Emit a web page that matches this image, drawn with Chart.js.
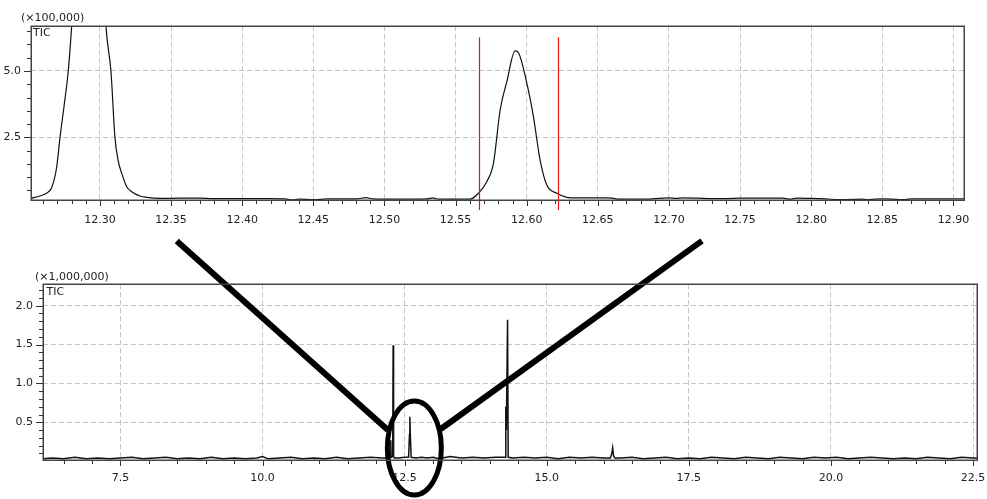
<!DOCTYPE html>
<html>
<head>
<meta charset="utf-8">
<title>TIC chromatogram</title>
<script src="https://cdn.jsdelivr.net/npm/chart.js@4/dist/chart.umd.min.js"></script>
<style>
  html, body { margin: 0; padding: 0; background: #fff; }
  #wrap { position: relative; width: 987px; height: 499px; overflow: hidden; }
  #topBox { position: absolute; left: 0; top: 0; width: 987px; height: 230px; }
  #botBox { position: absolute; left: 0; top: 232px; width: 987px; height: 267px; }
</style>
</head>
<body>
<div id="wrap">
  <div id="topBox"><canvas id="topChart"></canvas></div>
  <div id="botBox"><canvas id="botChart"></canvas></div>
</div>
<script>
// ---- Expanded window, 12.25 - 12.91 min (intensity x100,000) ----
const topTime = [
  12.2513, 12.2578, 12.262, 12.266, 12.2696, 12.2719, 12.2748, 12.2777, 12.2801,
  12.284, 12.288, 12.292, 12.297, 12.301,
  12.3042, 12.3077, 12.3105, 12.3127, 12.3153, 12.3188, 12.3223, 12.3281, 12.3328, 12.3422,
  12.35, 12.36, 12.37, 12.38, 12.39, 12.40, 12.41, 12.42, 12.43, 12.435, 12.44, 12.45,
  12.46, 12.47, 12.48, 12.487, 12.492, 12.50, 12.51, 12.52, 12.53, 12.534, 12.538, 12.55,
  12.5602, 12.566, 12.5719, 12.5766, 12.5813, 12.586, 12.5918, 12.5942, 12.6001, 12.6047,
  12.6094, 12.6141, 12.6212, 12.6282,
  12.635, 12.645, 12.655, 12.66, 12.665, 12.675, 12.685, 12.69, 12.70, 12.705, 12.71,
  12.72, 12.73, 12.74, 12.75, 12.76, 12.77, 12.78, 12.785, 12.79, 12.80, 12.81, 12.82,
  12.83, 12.835, 12.84, 12.845, 12.85, 12.86, 12.865, 12.87, 12.88, 12.89, 12.90, 12.9074
];
const topTic = [
  0.20, 0.29, 0.38, 0.60, 1.39, 2.50, 3.70, 5.00, 6.70,
  10.2, 13.6, 14.9, 13.8, 10.5,
  6.70, 5.00, 2.50, 1.64, 1.14, 0.64, 0.45, 0.29, 0.24, 0.20,
  0.20, 0.21, 0.21, 0.19, 0.19, 0.19, 0.19, 0.19, 0.18, 0.14, 0.17, 0.15,
  0.18, 0.18, 0.18, 0.23, 0.18, 0.17, 0.17, 0.17, 0.18, 0.22, 0.17, 0.17,
  0.17, 0.39, 0.83, 1.52, 3.53, 4.60, 5.76, 5.69, 4.53, 3.28,
  1.64, 0.70, 0.39, 0.24,
  0.22, 0.22, 0.22, 0.21, 0.17, 0.17, 0.17, 0.19, 0.22, 0.20, 0.22,
  0.21, 0.19, 0.19, 0.21, 0.21, 0.21, 0.21, 0.17, 0.21, 0.20, 0.18, 0.15,
  0.16, 0.17, 0.15, 0.17, 0.18, 0.16, 0.15, 0.18, 0.18, 0.18, 0.18, 0.18
];
const topXLabels = ['12.30', '12.35', '12.40', '12.45', '12.50', '12.55', '12.60',
                    '12.65', '12.70', '12.75', '12.80', '12.85', '12.90'];
const topYLabels = ['2.5', '5.0'];
// integration window markers (min)
const topMarkers = [12.5667, 12.6219];
const topMarkerTop = 6.27;

// ---- Full run, 6.1 - 22.6 min (intensity x1,000,000) ----
const bottomTime = [
  6.14, 6.3, 6.5, 6.7, 6.9, 7.1, 7.3, 7.5, 7.7, 7.9, 8.1, 8.3, 8.5, 8.7, 8.9, 9.1, 9.3,
  9.5, 9.7, 9.9, 10.0, 10.1, 10.3, 10.5, 10.7, 10.9, 11.1, 11.3, 11.5, 11.7, 11.9, 12.1,
  12.24, 12.252, 12.257, 12.262, 12.29, 12.298, 12.306, 12.32, 12.4, 12.5,
  12.57, 12.585, 12.592, 12.60, 12.615, 12.7, 12.8, 12.9, 13.0, 13.1, 13.3, 13.5, 13.7,
  13.9, 14.1, 14.27, 14.28, 14.29, 14.311, 14.322, 14.4, 14.6, 14.8, 15.0, 15.2, 15.4,
  15.6, 15.8, 16.0, 16.12, 16.145, 16.16, 16.175, 16.2, 16.3, 16.5, 16.7, 16.9, 17.1,
  17.3, 17.5, 17.7, 17.9, 18.1, 18.3, 18.5, 18.7, 18.9, 19.1, 19.3, 19.5, 19.7, 19.9,
  20.1, 20.3, 20.5, 20.7, 20.9, 21.1, 21.3, 21.5, 21.7, 21.9, 22.1, 22.3, 22.5, 22.57
];
const bottomTic = [
  0.03, 0.04, 0.03, 0.05, 0.03, 0.04, 0.03, 0.04, 0.05, 0.03, 0.04, 0.05, 0.03, 0.04, 0.03, 0.05, 0.03,
  0.04, 0.03, 0.04, 0.06, 0.03, 0.04, 0.05, 0.03, 0.04, 0.03, 0.05, 0.03, 0.04, 0.05, 0.04,
  0.04, 0.05, 0.27, 0.05, 0.06, 1.49, 0.06, 0.04, 0.04, 0.05,
  0.05, 0.34, 0.57, 0.34, 0.05, 0.04, 0.05, 0.04, 0.05, 0.03, 0.06, 0.04, 0.05,
  0.04, 0.05, 0.05, 0.70, 0.40, 1.82, 0.05, 0.04, 0.05, 0.04, 0.05, 0.03, 0.05,
  0.04, 0.05, 0.04, 0.04, 0.10, 0.17, 0.07, 0.04, 0.04, 0.05, 0.03, 0.04, 0.05,
  0.03, 0.04, 0.03, 0.05, 0.04, 0.03, 0.05, 0.04, 0.03, 0.05, 0.04, 0.03, 0.05, 0.04,
  0.05, 0.03, 0.04, 0.05, 0.04, 0.03, 0.04, 0.03, 0.05, 0.04, 0.03, 0.05, 0.04, 0.04
];
const bottomXLabels = ['7.5', '10.0', '12.5', '15.0', '17.5', '20.0', '22.5'];
const bottomYLabels = ['0.5', '1.0', '1.5', '2.0'];
// zoom callout: ring round the 12.6 min peak and the two leader lines (min, x1,000,000)
const calloutCenter = [12.671, 0.169];
const calloutRadius = [0.475, 0.605];
const leaderFrom = [[8.491, 2.833], [17.731, 2.833]];
const leaderTo = [[12.205, 0.401], [13.137, 0.414]];

const FONT = 'DejaVu Sans';
const TEXT = '#222';
const GRID = '#c6c6c6';
const FRAME = '#444';

function stepValues(from, to, step, digits) {
  const out = [];
  const n = Math.round((to - from) / step);
  for (let i = 0; i <= n; i++) out.push(+(from + i * step).toFixed(digits));
  return out;
}

// chart frame, outward tick marks, unit caption and trace name
function frameAndTicks(caption, captionXY, nameXY) {
  return {
    id: 'frameAndTicks',
    afterDraw(chart) {
      const { ctx, chartArea: a, scales } = chart;
      ctx.save();
      ctx.strokeStyle = '#333';
      ctx.lineWidth = 1;
      ctx.beginPath();
      scales.x.ticks.forEach(t => {
        const px = Math.round(scales.x.getPixelForValue(t.value)) + 0.5;
        const len = t.label ? 6 : 4;
        ctx.moveTo(px, a.bottom);
        ctx.lineTo(px, a.bottom + len);
      });
      scales.y.ticks.forEach(t => {
        const py = Math.round(scales.y.getPixelForValue(t.value)) + 0.5;
        const len = t.label ? 7 : 4;
        ctx.moveTo(a.left - len, py);
        ctx.lineTo(a.left, py);
      });
      ctx.stroke();
      ctx.strokeStyle = FRAME;
      ctx.lineWidth = 1.5;
      ctx.strokeRect(Math.round(a.left) + 0.25, Math.round(a.top) + 0.25,
                     Math.round(a.right - a.left), Math.round(a.bottom - a.top));
      ctx.fillStyle = TEXT;
      ctx.font = '11px "' + FONT + '"';
      ctx.textBaseline = 'middle';
      ctx.textAlign = 'left';
      ctx.fillText(caption, captionXY[0], captionXY[1]);
      ctx.fillText('TIC', nameXY[0], nameXY[1]);
      ctx.restore();
    }
  };
}

// red integration window lines, drawn last so nothing covers them
const markerPlugin = {
  id: 'markers',
  afterDraw(chart) {
    const { ctx, chartArea: a, scales } = chart;
    ctx.save();
    ctx.setLineDash([]);
    ctx.strokeStyle = 'rgb(230,20,20)';
    ctx.lineWidth = 1.2;
    topMarkers.forEach(m => {
      const px = Math.round(scales.x.getPixelForValue(m)) + 0.5;
      ctx.beginPath();
      ctx.moveTo(px, scales.y.getPixelForValue(topMarkerTop));
      ctx.lineTo(px, a.bottom + 10);
      ctx.stroke();
    });
    ctx.restore();
  }
};

const calloutPlugin = {
  id: 'callout',
  afterDraw(chart) {
    const { ctx, scales } = chart;
    const xs = scales.x, ys = scales.y;
    ctx.save();
    ctx.strokeStyle = '#000';
    ctx.lineWidth = 6;
    ctx.lineCap = 'butt';
    ctx.beginPath();
    leaderFrom.forEach((p, i) => {
      ctx.moveTo(xs.getPixelForValue(p[0]), ys.getPixelForValue(p[1]));
      ctx.lineTo(xs.getPixelForValue(leaderTo[i][0]), ys.getPixelForValue(leaderTo[i][1]));
    });
    ctx.stroke();
    const cx = xs.getPixelForValue(calloutCenter[0]);
    const cy = ys.getPixelForValue(calloutCenter[1]);
    const rx = Math.abs(xs.getPixelForValue(calloutCenter[0] + calloutRadius[0]) - cx);
    const ry = Math.abs(ys.getPixelForValue(calloutCenter[1] + calloutRadius[1]) - cy);
    ctx.lineWidth = 5;
    ctx.beginPath();
    ctx.ellipse(cx, cy, rx, ry, 0, 0, Math.PI * 2);
    ctx.stroke();
    ctx.restore();
  }
};

function axisX(min, max, tickValues, labels, digits, height, pad) {
  const isMajor = v => labels.includes(v.toFixed(digits));
  return {
    type: 'linear', min, max,
    afterBuildTicks: s => { s.ticks = tickValues.filter(v => v >= min && v <= max).map(v => ({ value: v })); },
    afterFit: s => { s.height = height; s.paddingLeft = 0; s.paddingRight = 0; },
    ticks: {
      autoSkip: false, maxRotation: 0, minRotation: 0, padding: pad, color: TEXT,
      font: { family: FONT, size: 11 },
      callback: v => isMajor(v) ? v.toFixed(digits) : ''
    },
    grid: {
      drawTicks: false, lineWidth: 1,
      color: c => (c.tick && isMajor(c.tick.value)) ? GRID : 'rgba(0,0,0,0)'
    },
    border: { display: false, dash: [5, 3] }
  };
}

function axisY(min, max, tickValues, labels, width) {
  const isMajor = v => labels.includes(v.toFixed(1));
  return {
    type: 'linear', min, max,
    afterBuildTicks: s => { s.ticks = tickValues.filter(v => v >= min && v <= max).map(v => ({ value: v })); },
    afterFit: s => { s.width = width; s.paddingTop = 0; s.paddingBottom = 0; },
    ticks: {
      autoSkip: false, padding: 10, color: TEXT,
      font: { family: FONT, size: 11 },
      callback: v => isMajor(v) ? v.toFixed(1) : ''
    },
    grid: {
      drawTicks: false, lineWidth: 1,
      color: c => (c.tick && isMajor(c.tick.value)) ? GRID : 'rgba(0,0,0,0)'
    },
    border: { display: false, dash: [5, 3] }
  };
}

const common = {
  responsive: true,
  maintainAspectRatio: false,
  animation: false,
  devicePixelRatio: 1,
  plugins: { legend: { display: false }, tooltip: { enabled: false } },
  elements: { point: { radius: 0 }, line: { tension: 0 } }
};

new Chart(document.getElementById('topChart'), {
  type: 'line',
  data: {
    datasets: [{
      label: 'TIC',
      data: topTime.map((t, i) => ({ x: t, y: topTic[i] })),
      borderColor: '#111', borderWidth: 1.2, fill: false,
      cubicInterpolationMode: 'monotone'
    }]
  },
  options: Object.assign({}, common, {
    layout: { padding: { left: 0, top: 26, right: 23, bottom: 0 } },
    scales: {
      x: axisX(12.2515, 12.9074, stepValues(12.26, 12.90, 0.01, 2), topXLabels, 2, 30, 14),
      y: axisY(0.138, 6.696, stepValues(0.5, 6.5, 0.5, 1), topYLabels, 31)
    }
  }),
  plugins: [markerPlugin, frameAndTicks('(\u00d7100,000)', [21, 18.5], [33, 33.5])]
});

new Chart(document.getElementById('botChart'), {
  type: 'line',
  data: {
    datasets: [{
      label: 'TIC',
      data: bottomTime.map((t, i) => ({ x: t, y: bottomTic[i] })),
      borderColor: '#111', borderWidth: 1.5, fill: false
    }]
  },
  options: Object.assign({}, common, {
    layout: { padding: { left: 0, top: 52, right: 10, bottom: 0 } },
    scales: {
      x: axisX(6.138, 22.57, stepValues(6.5, 22.5, 0.5, 1), bottomXLabels, 1, 39, 12),
      y: axisY(0.015, 2.279, stepValues(0.1, 2.2, 0.1, 1), bottomYLabels, 43)
    }
  }),
  plugins: [calloutPlugin, frameAndTicks('(\u00d71,000,000)', [35, 45], [46.5, 60.5])]
});
</script>
</body>
</html>
